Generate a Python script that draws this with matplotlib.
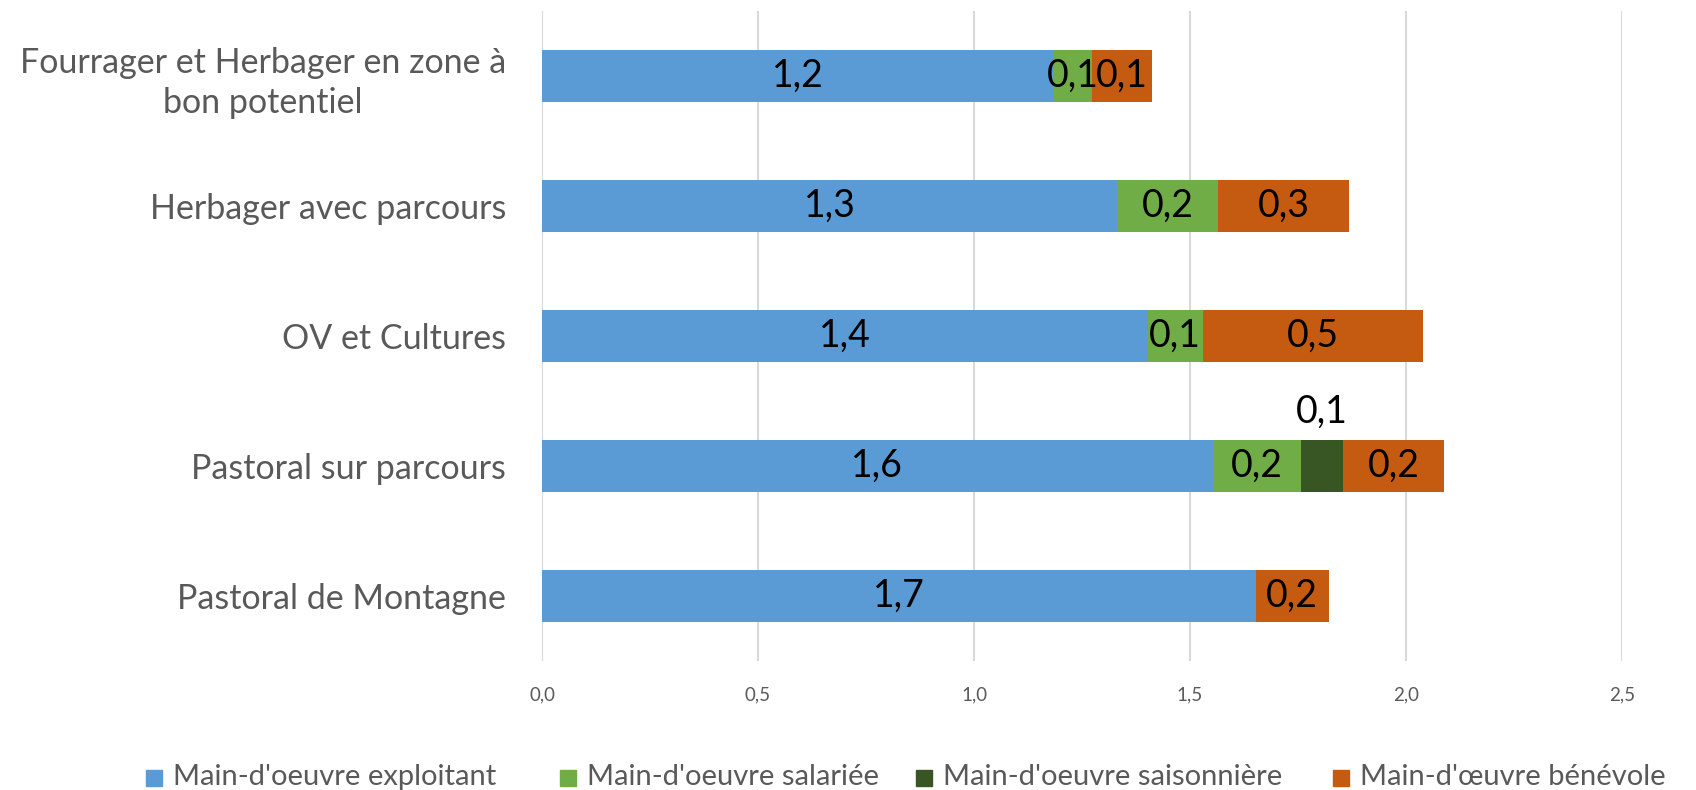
import matplotlib.pyplot as plt
from matplotlib.patches import Rectangle

# Data
categories = [
    "Fourrager et Herbager en zone à\nbon potentiel",
    "Herbager avec parcours",
    "OV et Cultures",
    "Pastoral sur parcours",
    "Pastoral de Montagne",
]
exploitant = [1.185, 1.331, 1.400, 1.552, 1.652]
salariee = [0.088, 0.234, 0.130, 0.204, 0.0]
saisonniere = [0.0, 0.0, 0.0, 0.099, 0.0]
benevole = [0.139, 0.303, 0.509, 0.232, 0.169]

series_names = [
    "Main-d'oeuvre exploitant",
    "Main-d'oeuvre salariée",
    "Main-d'oeuvre saisonnière",
    "Main-d'œuvre bénévole",
]
colors = ["#5B9BD5", "#70AD47", "#375623", "#C55A11"]
x_ticks = [0.0, 0.5, 1.0, 1.5, 2.0, 2.5]

plt.rcParams['font.family'] = ['Lato', 'DejaVu Sans']

fig = plt.figure(figsize=(16.96, 7.9), dpi=100)
ax = fig.add_axes([0.3196, 0.163, 0.9564 - 0.3196, 0.986 - 0.163])

series = [exploitant, salariee, saisonniere, benevole]
y = list(range(len(categories)))
left = [0.0] * len(categories)
for vals, col, name in zip(series, colors, series_names):
    ax.barh(y, vals, left=left, height=0.4, color=col, label=name, zorder=3)
    for i, v in enumerate(vals):
        if v <= 0:
            continue
        cx = left[i] + v / 2
        txt = f"{v:.1f}".replace(".", ",")
        if col == "#375623":
            # seasonal label sits above the thin segment
            ax.text(cx, y[i] - 0.42, txt, ha="center", va="center",
                    fontsize=27, color="black", zorder=4)
        else:
            ax.text(cx, y[i], txt, ha="center", va="center",
                    fontsize=27, color="black", zorder=4)
    left = [l + v for l, v in zip(left, vals)]

ax.set_xlim(0, 2.5)
ax.set_ylim(len(categories) - 0.5, -0.5)
ax.set_xticks(x_ticks)
ax.set_xticklabels([f"{t:.1f}".replace(".", ",") for t in x_ticks])
ax.set_yticks(y)
ax.set_yticklabels(categories, multialignment="center", linespacing=1.3)
ax.tick_params(axis="x", length=0, pad=18, labelsize=13.5, labelcolor="#595959")
ax.tick_params(axis="y", length=0, pad=26, labelsize=24.5, labelcolor="#595959")
for s in ax.spines.values():
    s.set_visible(False)
ax.grid(axis="x", color="#D9D9D9", linewidth=1.5, zorder=0)
ax.set_axisbelow(True)

# Legend drawn by hand along the bottom
legend_x = [146, 560, 916, 1333]
W, H = 1696, 790
for lx, col, name in zip(legend_x, colors, series_names):
    fig.patches.append(Rectangle((lx / W, 1 - 786 / H), 16 / W, 16 / H,
                                 transform=fig.transFigure, color=col))
    fig.text((lx + 27) / W, 1 - 777 / H, name, ha="left", va="center",
             fontsize=21, color="#595959")

fig.savefig("out.png", dpi=100)
